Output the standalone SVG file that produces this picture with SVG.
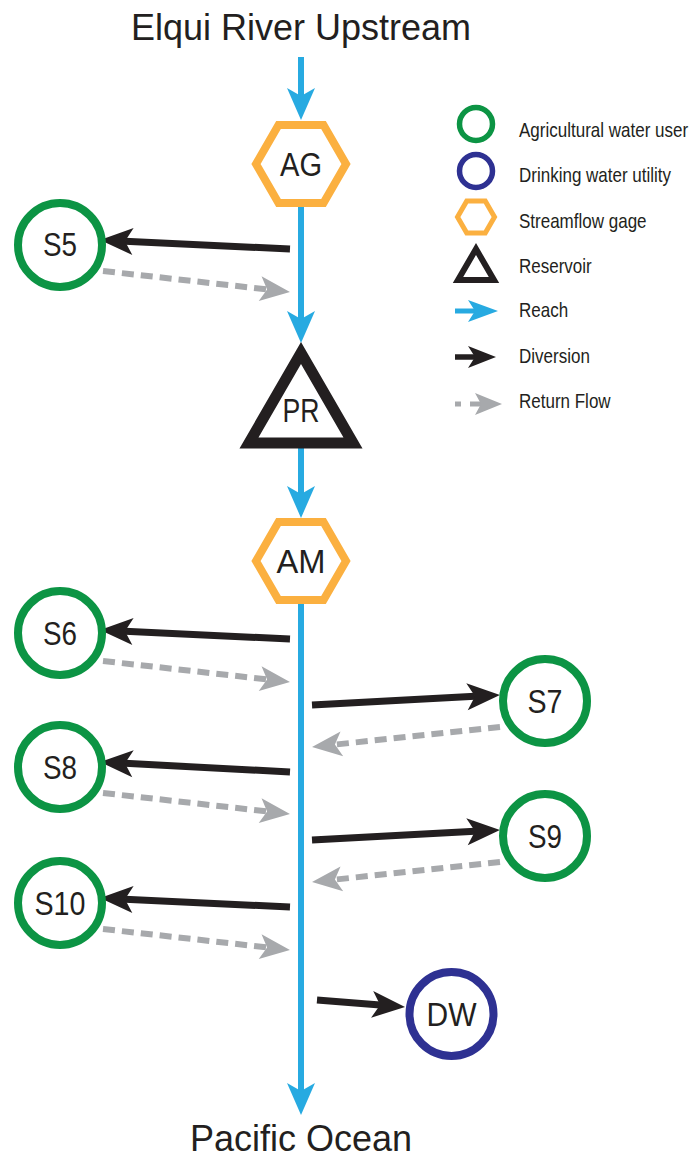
<svg xmlns="http://www.w3.org/2000/svg" width="692" height="1160" viewBox="0 0 692 1160">
<style>
  .title { font-family: "Liberation Sans", Arial, sans-serif; font-size: 36px; fill: #231f20; text-anchor: middle; }
  .lbl { font-family: "Liberation Sans", Arial, sans-serif; font-size: 34px; fill: #231f20; text-anchor: middle; }
  .leg { font-family: "Liberation Sans", Arial, sans-serif; font-size: 21px; fill: #231f20; }
  .ag { fill: #ffffff; stroke: #0c9444; stroke-width: 8; }
  .dw { fill: #ffffff; stroke: #2e3192; stroke-width: 8; }
  .gage { fill: #ffffff; stroke: #fbb040; stroke-width: 8; stroke-linejoin: miter; }
  .res { fill: #ffffff; stroke: #231f20; stroke-width: 11; stroke-linejoin: miter; }
  .reach { fill: none; stroke: #27aae1; stroke-width: 6; }
  .div { fill: none; stroke: #231f20; stroke-width: 7; }
  .ret { fill: none; stroke: #a7a9ac; stroke-width: 6; stroke-dasharray: 12 7; }
</style>
<defs>
  <marker id="hReach" markerUnits="userSpaceOnUse" viewBox="-10 -16 36 32" refX="0" refY="0" markerWidth="36" markerHeight="32" orient="auto" overflow="visible">
    <path d="M24,0 L-8,-14 L0,0 L-8,14 Z" fill="#27aae1"/>
  </marker>
  <marker id="hDiv" markerUnits="userSpaceOnUse" viewBox="-10 -16 36 32" refX="0" refY="0" markerWidth="36" markerHeight="32" orient="auto" overflow="visible">
    <path d="M25,0 L-8,-13.5 L0,0 L-8,13.5 Z" fill="#231f20"/>
  </marker>
  <marker id="hRet" markerUnits="userSpaceOnUse" viewBox="-10 -16 36 32" refX="0" refY="0" markerWidth="36" markerHeight="32" orient="auto" overflow="visible">
    <path d="M23,0 L-7,-12.5 L0,0 L-7,12.5 Z" fill="#a7a9ac"/>
  </marker>
  <marker id="lReach" markerUnits="userSpaceOnUse" viewBox="-10 -14 34 28" refX="0" refY="0" markerWidth="34" markerHeight="28" orient="auto" overflow="visible">
    <path d="M23,0 L-7,-11 L0,0 L-7,11 Z" fill="#27aae1"/>
  </marker>
  <marker id="lDiv" markerUnits="userSpaceOnUse" viewBox="-10 -14 34 28" refX="0" refY="0" markerWidth="34" markerHeight="28" orient="auto" overflow="visible">
    <path d="M21,0 L-7,-11 L0,0 L-7,11 Z" fill="#231f20"/>
  </marker>
  <marker id="lRet" markerUnits="userSpaceOnUse" viewBox="-10 -14 34 28" refX="0" refY="0" markerWidth="34" markerHeight="28" orient="auto" overflow="visible">
    <path d="M21,0 L-6,-11 L0,0 L-6,11 Z" fill="#a7a9ac"/>
  </marker>
</defs>

<rect width="692" height="1160" fill="#ffffff"/>

<text class="title" x="301" y="40">Elqui River Upstream</text>
<text class="title" x="301" y="1151">Pacific Ocean</text>

<g id="connectors">
  <!-- reach -->
  <line class="reach" x1="301" y1="57" x2="301" y2="96" marker-end="url(#hReach)"/>
  <line class="reach" x1="301" y1="207" x2="301" y2="319" marker-end="url(#hReach)"/>
  <line class="reach" x1="301" y1="448" x2="301" y2="494" marker-end="url(#hReach)"/>
  <line class="reach" x1="301" y1="604" x2="301" y2="1091" marker-end="url(#hReach)"/>
  <!-- diversions -->
  <line class="div" x1="290" y1="249" x2="125" y2="241.2" marker-end="url(#hDiv)"/>
  <line class="div" x1="290" y1="639" x2="125" y2="631.2" marker-end="url(#hDiv)"/>
  <line class="div" x1="312" y1="705" x2="475" y2="696.3" marker-end="url(#hDiv)"/>
  <line class="div" x1="290" y1="772" x2="125" y2="763.3" marker-end="url(#hDiv)"/>
  <line class="div" x1="312" y1="840" x2="475" y2="831.3" marker-end="url(#hDiv)"/>
  <line class="div" x1="290" y1="907" x2="125" y2="899.2" marker-end="url(#hDiv)"/>
  <line class="div" x1="317" y1="1000" x2="380.1" y2="1005" marker-end="url(#hDiv)"/>
  <!-- return flows -->
  <line class="ret" x1="103" y1="271" x2="267.1" y2="289.4" marker-end="url(#hRet)"/>
  <line class="ret" x1="103" y1="661" x2="267.1" y2="679.4" marker-end="url(#hRet)"/>
  <line class="ret" x1="500" y1="727" x2="334.9" y2="744.6" marker-end="url(#hRet)"/>
  <line class="ret" x1="103" y1="793" x2="267.1" y2="811.4" marker-end="url(#hRet)"/>
  <line class="ret" x1="500" y1="862" x2="334.9" y2="879.6" marker-end="url(#hRet)"/>
  <line class="ret" x1="103" y1="929" x2="267.1" y2="947.4" marker-end="url(#hRet)"/>
</g>

<g id="node-AG">
  <polygon class="gage" points="256,164 278.5,125 323.5,125 346,164 323.5,203 278.5,203"/>
  <text class="lbl" x="301" y="176" textLength="42" lengthAdjust="spacingAndGlyphs">AG</text>
</g>
<g id="node-PR">
  <polygon class="res" points="301,353 249,443 353,443"/>
  <text class="lbl" x="301" y="422" textLength="37" lengthAdjust="spacingAndGlyphs">PR</text>
</g>
<g id="node-AM">
  <polygon class="gage" points="256,561 278.5,522 323.5,522 346,561 323.5,600 278.5,600"/>
  <text class="lbl" x="301" y="573" textLength="49" lengthAdjust="spacingAndGlyphs">AM</text>
</g>
<g id="node-S5">
  <circle class="ag" cx="60" cy="245" r="42"/>
  <text class="lbl" x="60" y="256" textLength="34" lengthAdjust="spacingAndGlyphs">S5</text>
</g>
<g id="node-S6">
  <circle class="ag" cx="60" cy="633" r="42"/>
  <text class="lbl" x="60" y="645" textLength="34" lengthAdjust="spacingAndGlyphs">S6</text>
</g>
<g id="node-S7">
  <circle class="ag" cx="545" cy="701" r="42"/>
  <text class="lbl" x="545" y="713" textLength="35" lengthAdjust="spacingAndGlyphs">S7</text>
</g>
<g id="node-S8">
  <circle class="ag" cx="60" cy="767" r="42"/>
  <text class="lbl" x="60" y="779" textLength="34" lengthAdjust="spacingAndGlyphs">S8</text>
</g>
<g id="node-S9">
  <circle class="ag" cx="545" cy="836" r="42"/>
  <text class="lbl" x="545" y="848" textLength="34" lengthAdjust="spacingAndGlyphs">S9</text>
</g>
<g id="node-S10">
  <circle class="ag" cx="60" cy="903" r="42"/>
  <text class="lbl" x="60" y="915" textLength="51" lengthAdjust="spacingAndGlyphs">S10</text>
</g>
<g id="node-DW">
  <circle class="dw" cx="451.5" cy="1014" r="42"/>
  <text class="lbl" x="451.5" y="1026" textLength="50" lengthAdjust="spacingAndGlyphs">DW</text>
</g>

<g id="legend">
  <circle cx="476" cy="124" r="16.5" fill="#ffffff" stroke="#0c9444" stroke-width="5.5"/>
  <circle cx="476" cy="171" r="16.5" fill="#ffffff" stroke="#2e3192" stroke-width="5.5"/>
  <polygon points="457.5,217 466.75,201 485.25,201 494.5,217 485.25,233 466.75,233" fill="#ffffff" stroke="#fbb040" stroke-width="5"/>
  <polygon points="476,249 458,280 494,280" fill="#ffffff" stroke="#231f20" stroke-width="6"/>
  <line x1="455" y1="311" x2="475" y2="311" stroke="#27aae1" stroke-width="5" marker-end="url(#lReach)"/>
  <line x1="455" y1="357" x2="475" y2="357" stroke="#231f20" stroke-width="5.5" marker-end="url(#lDiv)"/>
  <path d="M455,404 H461 M470,404 H481" fill="none" stroke="#a7a9ac" stroke-width="5" marker-end="url(#lRet)"/>
  <g transform="translate(519,0) scale(0.81,1)">
    <text class="leg" x="0" y="137">Agricultural water user</text>
    <text class="leg" x="0" y="182">Drinking water utility</text>
    <text class="leg" x="0" y="228">Streamflow gage</text>
    <text class="leg" x="0" y="273">Reservoir</text>
    <text class="leg" x="0" y="317">Reach</text>
    <text class="leg" x="0" y="363">Diversion</text>
    <text class="leg" x="0" y="408">Return Flow</text>
  </g>
</g>
</svg>
